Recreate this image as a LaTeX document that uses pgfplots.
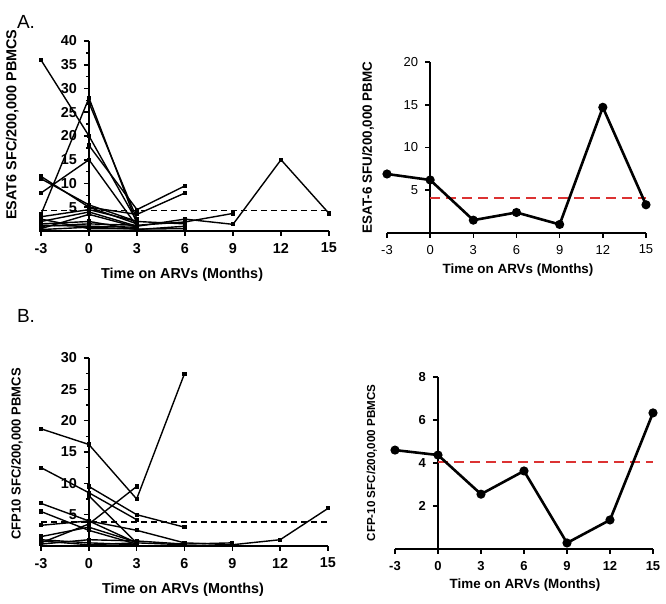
\documentclass[border=0pt]{standalone}
\usepackage{fontspec}
\setmainfont{Liberation Sans}
\usepackage{pgfplots}
\pgfplotsset{compat=1.18}
\definecolor{cutred}{RGB}{220,50,50}

\pgfplotsset{
  gp/.style={
    scale only axis, enlargelimits=false, clip=false,
    axis x line=bottom, axis y line=middle,
    axis line style={-, line width=1pt},
    tick align=outside, major tick length=2.5pt, minor tick length=1.5pt,
    tick style={line width=0.8pt, black},
    xmin=-3, xmax=15, xtick={-3,0,3,6,9,12,15},
    /pgf/number format/assume math mode=true,
    ticklabel style={font=\bfseries\fontsize{7.2}{8}\selectfont},
    anchor=south west,
  },
  pat/.style={black, line width=0.7pt, mark=square*, mark size=0.7pt},
  avg/.style={black, line width=1.3pt, mark=*, mark size=1.6pt},
}

\begin{document}
\begin{tikzpicture}
\useasboundingbox (0,0) rectangle (333pt,302pt);
\node[anchor=north west, font=\fontsize{9.5}{10}\selectfont] at (5pt,298pt) {A.};
\node[anchor=north west, font=\fontsize{9.5}{10}\selectfont] at (5pt,151pt) {B.};

% ---- A left: individual ESAT6 responses
\begin{axis}[gp, at={(20.5pt,186.5pt)}, width=144pt, height=95pt,
  ymin=0, ymax=40, ytick={5,10,...,40}, minor y tick num=1,
  ylabel={ESAT6 SFC/200,000 PBMCS},
  xlabel={Time on ARVs (Months)},
  label style={font=\bfseries\fontsize{7.2}{8}\selectfont},
  ylabel style={at={(rel axis cs:-0.1,0.56)}, rotate=90, anchor=center},
  xlabel style={at={(rel axis cs:0.49,-0.232)}, anchor=center},
]
\addplot[black, line width=0.7pt, densely dashed] coordinates {(-3,4.3) (15,4.3)};
\addplot[pat] coordinates {(-3,36) (0,20) (3,2)};
\addplot[pat] coordinates {(-3,3.5) (0,28) (3,1.5)};
\addplot[pat] coordinates {(0,27) (3,2.5)};
\addplot[pat] coordinates {(-3,8) (0,15) (3,1)};
\addplot[pat] coordinates {(-3,11.5) (0,5) (3,1.5)};
\addplot[pat] coordinates {(-3,11) (0,5.5) (3,2)};
\addplot[pat] coordinates {(0,18) (3,4.5) (6,9.5)};
\addplot[pat] coordinates {(0,5) (3,3.5) (6,8)};
\addplot[pat] coordinates {(-3,2) (0,4) (3,1) (6,2.5) (9,1.4) (12,15) (15,3.7)};
\addplot[pat] coordinates {(-3,1) (0,1.5) (3,1.2) (6,1.9) (9,3.7)};
\addplot[pat] coordinates {(-3,2.5) (0,0.5) (3,0.5)};
\addplot[pat] coordinates {(-3,0.5) (0,3.5) (3,0.8)};
\addplot[pat] coordinates {(-3,1.5) (0,2) (3,0.3) (6,1)};
\addplot[pat] coordinates {(-3,3) (0,4.5) (3,2) (6,1.5)};
\addplot[pat] coordinates {(-3,0.3) (0,0.8) (3,0.4) (6,0.5)};
\addplot[pat] coordinates {(-3,1.2) (0,1) (3,0.8)};
\end{axis}

% ---- A right: median ESAT-6
\begin{axis}[gp, at={(193.5pt,185.5pt)}, width=129.5pt, height=85.5pt,
  ymin=0, ymax=20, ytick={5,10,15,20},
  ticklabel style={font=\fontsize{6.5}{7}\selectfont},
  ylabel={ESAT-6 SFU/200,000 PBMC},
  xlabel={Time on ARVs (Months)},
  label style={font=\bfseries\fontsize{6.7}{8}\selectfont},
  ylabel style={at={(rel axis cs:-0.073,0.5)}, rotate=90, anchor=center},
  xlabel style={at={(rel axis cs:0.506,-0.216)}, anchor=center},
]
\addplot[cutred, line width=1.1pt, dash pattern=on 5pt off 3pt] coordinates {(0,4.1) (15,4.1)};
\addplot[avg] coordinates {(-3,6.9) (0,6.2) (3,1.5) (6,2.4) (9,1.0) (12,14.7) (15,3.3)};
\end{axis}

% ---- B left: individual CFP10 responses
\begin{axis}[gp, at={(20.5pt,29pt)}, width=143.5pt, height=94pt,
  ymin=0, ymax=30, ytick={5,10,...,30}, minor y tick num=1,
  ylabel={CFP10 SFC/200,000 PBMCS},
  xlabel={Time on ARVs (Months)},
  label style={font=\bfseries\fontsize{7.2}{8}\selectfont},
  ylabel style={at={(rel axis cs:-0.084,0.49)}, rotate=90, anchor=center,
    font=\bfseries\fontsize{6.5}{7}\selectfont},
  xlabel style={at={(rel axis cs:0.495,-0.234)}, anchor=center},
]
\addplot[black, line width=0.7pt, densely dashed] coordinates {(-3,3.8) (15,3.8)};
\addplot[pat] coordinates {(-3,18.7) (0,16.2) (3,7.5) (6,27.5)};
\addplot[pat] coordinates {(-3,0.5) (0,3.5) (3,9.5)};
\addplot[pat] coordinates {(-3,12.5) (0,8.5) (3,4.2)};
\addplot[pat] coordinates {(0,9.5) (3,5) (6,3)};
\addplot[pat] coordinates {(-3,6.8) (0,4) (3,0.5)};
\addplot[pat] coordinates {(-3,5.5) (0,2.5) (3,0.3)};
\addplot[pat] coordinates {(-3,3.3) (0,4) (3,2.5) (6,0.5) (9,0.2) (12,1) (15,6)};
\addplot[pat] coordinates {(0,8) (3,0.5) (6,0.2)};
\addplot[pat] coordinates {(-3,1) (0,0.5) (3,0.2)};
\addplot[pat] coordinates {(-3,0.3) (0,1) (3,0.8) (6,0.3) (9,0.5)};
\addplot[pat] coordinates {(-3,0.8) (0,0.2) (3,0.5)};
\addplot[pat] coordinates {(-3,1.5) (0,3) (3,0.6)};
\end{axis}

% ---- B right: median CFP-10
\begin{axis}[gp, at={(197.5pt,27.5pt)}, width=129pt, height=86pt,
  ymin=0, ymax=8, ytick={2,4,6,8},
  ticklabel style={font=\bfseries\fontsize{6.5}{7}\selectfont},
  ylabel={CFP-10 SFC/200,000 PBMCS},
  xlabel={Time on ARVs (Months)},
  label style={font=\bfseries\fontsize{6.7}{8}\selectfont},
  ylabel style={at={(rel axis cs:-0.09,0.5)}, rotate=90, anchor=center,
    font=\bfseries\fontsize{5.8}{7}\selectfont},
  xlabel style={at={(rel axis cs:0.504,-0.209)}, anchor=center},
]
\addplot[cutred, line width=1.1pt, dash pattern=on 5pt off 3pt] coordinates {(0,4.05) (15,4.05)};
\addplot[avg] coordinates {(-3,4.6) (0,4.37) (3,2.55) (6,3.63) (9,0.28) (12,1.35) (15,6.33)};
\end{axis}
\end{tikzpicture}
\end{document}
